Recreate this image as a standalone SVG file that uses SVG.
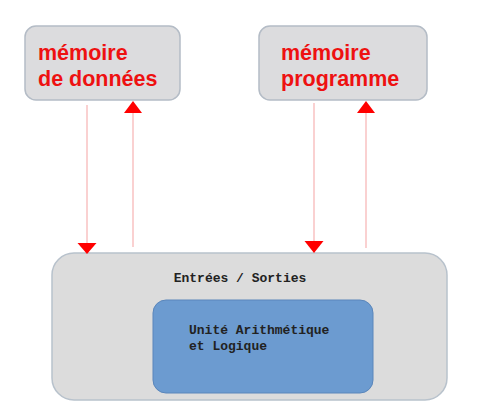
<svg xmlns="http://www.w3.org/2000/svg" width="490" height="413" viewBox="0 0 490 413">
<style>
.mem{fill:#dcdcde;stroke:#b4bcc6;stroke-width:1.5}
.mt{font-family:"Liberation Sans",Arial,sans-serif;font-weight:bold;font-size:21.5px;fill:#ee1111}
.ln{stroke:#f5a3a3;stroke-width:1;fill:none}
.ah{fill:#ff0000}
.mono{font-family:"Liberation Mono","Courier New",monospace;font-weight:bold;font-size:13px;fill:#222222}
</style>
<rect width="490" height="413" fill="#ffffff"/>
<g id="memoire-donnees">
<rect class="mem" x="25" y="26" width="155" height="74" rx="11"/>
<text class="mt" x="38" y="60">mémoire</text>
<text class="mt" x="38" y="86">de données</text>
</g>
<g id="memoire-programme">
<rect class="mem" x="259" y="26" width="168" height="74" rx="11"/>
<text class="mt" x="281" y="60">mémoire</text>
<text class="mt" x="281" y="86">programme</text>
</g>
<g id="entrees-sorties">
<rect x="52" y="253" width="395" height="147" rx="22" fill="#dcdcdc" stroke="#b8c2cc" stroke-width="1.5"/>
<text class="mono" x="240" y="282" text-anchor="middle">Entrées / Sorties</text>
</g>
<g id="ual">
<rect x="153" y="300" width="220" height="93" rx="13" fill="#6c9bd0" stroke="#5a86bb" stroke-width="1"/>
<text class="mono" x="189" y="334" fill="#1a2333">Unité Arithmétique</text>
<text class="mono" x="189" y="350" fill="#1a2333">et Logique</text>
</g>
<g id="connectors">
<line class="ln" x1="87" y1="105" x2="87" y2="244"/>
<polygon class="ah" points="77.5,243 96.5,243 87,254"/>
<line class="ln" x1="133" y1="112" x2="133" y2="247"/>
<polygon class="ah" points="124,113 142,113 133,101"/>
<line class="ln" x1="314" y1="103" x2="314" y2="242"/>
<polygon class="ah" points="304.5,241 323.5,241 314,253"/>
<line class="ln" x1="366" y1="112" x2="366" y2="248"/>
<polygon class="ah" points="357,113 375,113 366,101"/>
</g>
</svg>
